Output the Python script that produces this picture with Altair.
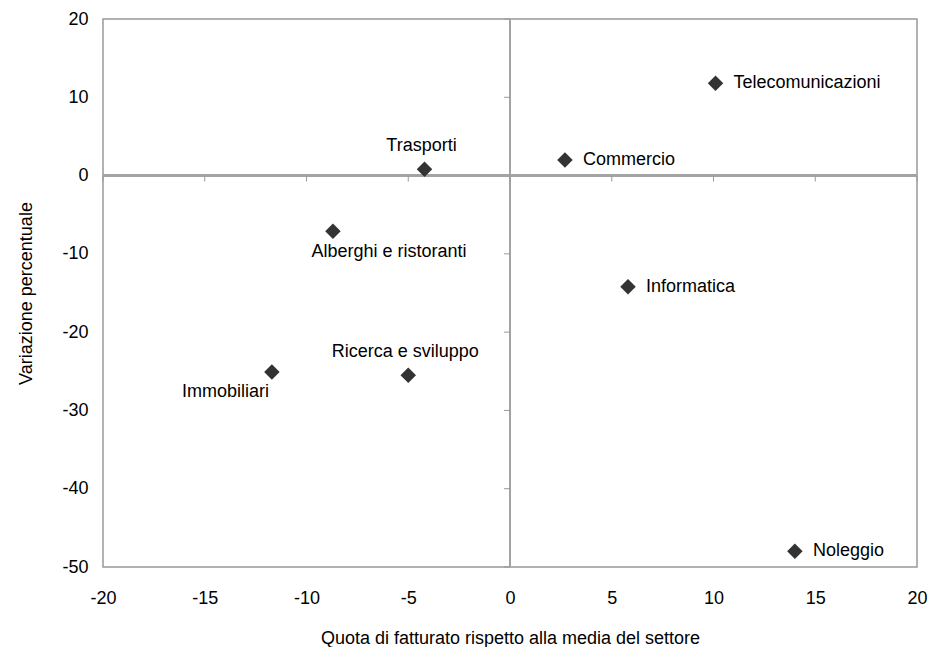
import altair as alt
import pandas as pd

# ---- data ----
sectors = ["Telecomunicazioni", "Commercio", "Trasporti", "Alberghi e ristoranti",
           "Informatica", "Ricerca e sviluppo", "Immobiliari", "Noleggio"]
quota = [10.1, 2.7, -4.2, -8.7, 5.8, -5.0, -11.7, 14.0]
variazione = [11.8, 2.0, 0.8, -7.1, -14.2, -25.5, -25.1, -48.0]

x_ticks = [-20, -15, -10, -5, 0, 5, 10, 15, 20]
y_ticks = [20, 10, 0, -10, -20, -30, -40, -50]
x_zero_ticks = [-20, -15, -10, -5, 0, 5, 10, 15, 20]
y_zero_ticks = [20, 10, -10, -20, -30, -40, -50]

# label placement groups (layout only)
right_labels = ["Telecomunicazioni", "Commercio", "Informatica", "Noleggio"]
above_labels = ["Trasporti", "Ricerca e sviluppo"]
below_shift_labels = ["Alberghi e ristoranti"]
below_left_labels = ["Immobiliari"]

df = pd.DataFrame({"settore": sectors, "quota": quota, "variazione": variazione})
xt = pd.DataFrame({"t": x_zero_ticks})
yt = pd.DataFrame({"t": y_zero_ticks})

FONT = "Liberation Sans"
x_scale = alt.Scale(domain=[-20, 20], nice=False, zero=False)
y_scale = alt.Scale(domain=[-50, 20], nice=False, zero=False)

X_TITLE = "Quota di fatturato rispetto alla media del settore"
Y_TITLE = "Variazione percentuale"
LABEL_EXPR = "toString(datum.value)"
x_axis = alt.Axis(values=x_ticks, title=X_TITLE, labelExpr=LABEL_EXPR, labelFlush=False,
                  grid=False, ticks=False, domain=False, labelPadding=22, titlePadding=22)
y_axis = alt.Axis(values=y_ticks, title=Y_TITLE, labelExpr=LABEL_EXPR, labelFlush=False,
                  grid=False, ticks=False, domain=False, labelPadding=15, titlePadding=26)

LINE = "#a3a3a3"

zero_h = alt.Chart(df).mark_rule(color=LINE, strokeWidth=2).encode(
    y=alt.datum(0, scale=y_scale, axis=y_axis, type="quantitative"))
zero_v = alt.Chart(df).mark_rule(color=LINE, strokeWidth=2).encode(
    x=alt.datum(0, scale=x_scale, axis=x_axis, type="quantitative"))

ticks_h = alt.Chart(xt).mark_rule(color="#999999", strokeWidth=1, y2Offset=6).encode(
    x=alt.X("t:Q", scale=x_scale, axis=x_axis),
    y=alt.datum(0, type="quantitative", scale=y_scale, axis=y_axis),
    y2=alt.datum(0))
ticks_v = alt.Chart(yt).mark_rule(color="#999999", strokeWidth=1, x2Offset=-6).encode(
    y=alt.Y("t:Q", scale=y_scale, axis=y_axis),
    x=alt.datum(0, type="quantitative", scale=x_scale, axis=x_axis),
    x2=alt.datum(0))

points = alt.Chart(df).mark_point(shape="diamond", filled=True, size=240,
                                  color="#333333", opacity=1).encode(
    x=alt.X("quota:Q", scale=x_scale, axis=x_axis),
    y=alt.Y("variazione:Q", scale=y_scale, axis=y_axis),
)


def labels(names, align, dx, dy):
    return alt.Chart(df).transform_filter(
        alt.FieldOneOfPredicate(field="settore", oneOf=names)
    ).mark_text(align=align, baseline="middle", dx=dx, dy=dy, font=FONT,
                fontSize=18, color="#000000").encode(
        x=alt.X("quota:Q", scale=x_scale, axis=x_axis),
        y=alt.Y("variazione:Q", scale=y_scale, axis=y_axis),
        text="settore:N",
    )


chart = alt.layer(
    zero_h, zero_v, ticks_h, ticks_v,
    points,
    labels(right_labels, "left", 18, 0),
    labels(above_labels, "center", -3, -23),
    labels(below_shift_labels, "center", 56, 21),
    labels(below_left_labels, "right", -3, 20),
).properties(
    width=814, height=548,
    autosize=alt.AutoSizeParams(type="none"),
    padding={"left": 95, "top": 11, "right": 15, "bottom": 80},
).configure_view(
    stroke="#999999", strokeWidth=1.5
).configure_axis(
    labelFont=FONT, labelFontSize=18, labelColor="#000000",
    titleFont=FONT, titleFontSize=18, titleColor="#000000", titleFontWeight="normal",
)

chart.save("out.html", embed_options={"renderer": "svg", "actions": False})
